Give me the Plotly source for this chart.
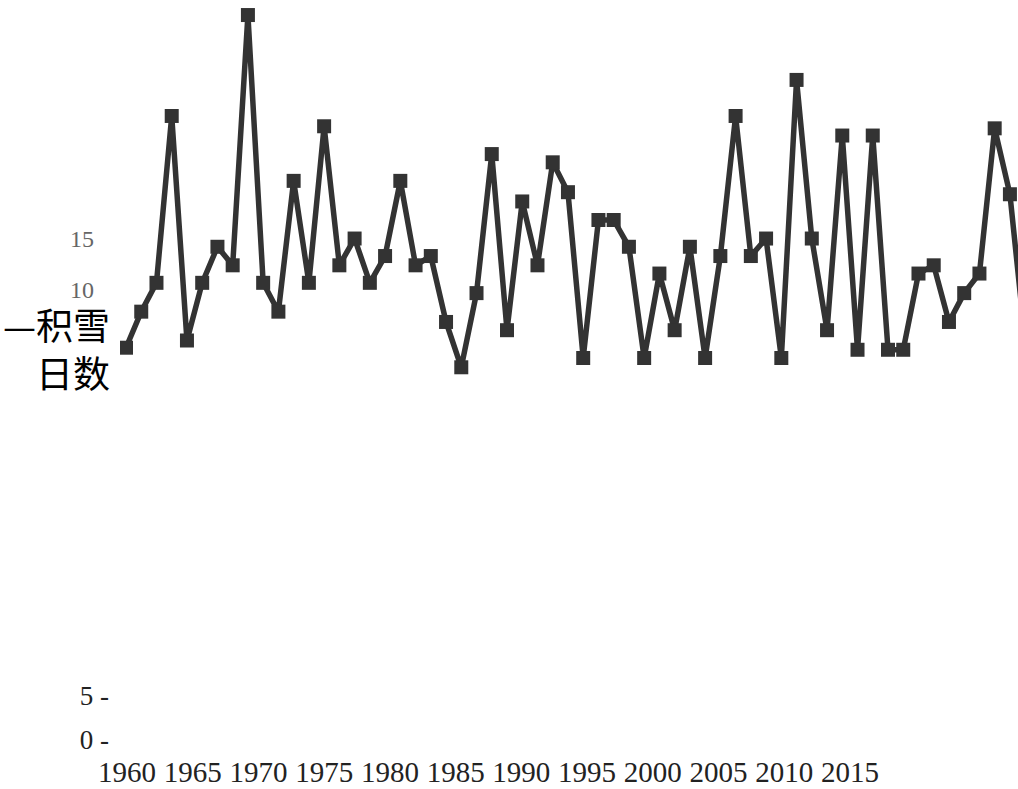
import plotly.graph_objects as go

# Annual snow-cover days
years = list(range(1960, 2020))
snow_days = [4.4, 7.9, 10.7, 26.9, 5.1, 10.7, 14.2, 12.4, 36.7, 10.7,
             7.9, 20.6, 10.7, 25.9, 12.4, 15.0, 10.7, 13.3, 20.6, 12.4,
             13.3, 6.9, 2.5, 9.7, 23.2, 6.1, 18.6, 12.4, 22.4, 19.5,
             3.4, 16.8, 16.8, 14.2, 3.4, 11.6, 6.1, 14.2, 3.4, 13.3,
             26.9, 13.3, 15.0, 3.4, 30.4, 15.0, 6.1, 25.0, 4.2, 25.0,
             4.2, 4.2, 11.6, 12.4, 6.9, 9.7, 11.6, 25.7, 19.3, 5.0]

# Tick labels
upper_y_ticks = [10, 15]
lower_y_ticks = [0, 5]
lower_y_text = ["0 -", "5 -"]
year_ticks = list(range(1960, 2016, 5))

W, H = 1018, 789
SERIF = "Liberation Serif"
CJK = "Noto Sans CJK SC"


def px_x(p):
    return p / W


def px_y(p):
    return 1 - p / H


fig = go.Figure()

fig.add_trace(go.Scatter(
    x=years, y=snow_days,
    mode="lines+markers",
    line=dict(color="#333333", width=5.5),
    marker=dict(symbol="square", size=14, color="#333333", line=dict(width=0)),
    showlegend=False, hoverinfo="x+y",
))

# Empty trace so the lower axis pair is drawn
fig.add_trace(go.Scatter(x=[], y=[], xaxis="x2", yaxis="y2", showlegend=False))

fig.update_layout(
    width=W, height=H,
    margin=dict(l=0, r=0, t=0, b=0, pad=0),
    paper_bgcolor="white",
    plot_bgcolor="white",
    xaxis=dict(
        domain=[px_x(120), 1.0],
        range=[1959.606, 2018.53],
        automargin=False,
        showticklabels=False, showgrid=False, zeroline=False, showline=False,
        ticks="",
    ),
    yaxis=dict(
        domain=[px_y(375), 1.0],
        range=[1.75, 38.16],
        automargin=False,
        tickvals=upper_y_ticks,
        ticktext=[str(v) for v in upper_y_ticks],
        tickfont=dict(family=SERIF, size=24, color="#666666"),
        ticks="", ticklabelstandoff=25,
        showgrid=False, zeroline=False, showline=False,
    ),
    xaxis2=dict(
        domain=[px_x(112), px_x(900)],
        range=[1958.859, 2018.805],
        anchor="y2",
        automargin=False,
        tickvals=year_ticks,
        ticktext=[str(v) for v in year_ticks],
        tickfont=dict(family=SERIF, size=29, color="#222222"),
        ticks="", ticklabelstandoff=2,
        showgrid=False, zeroline=False, showline=False,
    ),
    yaxis2=dict(
        domain=[px_y(750), px_y(686)],
        range=[-1.136, 6.136],
        anchor="free",
        position=px_x(109),
        automargin=False,
        tickvals=lower_y_ticks,
        ticktext=lower_y_text,
        tickfont=dict(family=SERIF, size=27, color="#222222"),
        ticks="", ticklabelstandoff=0,
        showgrid=False, zeroline=False, showline=False,
    ),
    annotations=[dict(
        text="—积雪<br>日数",
        xref="paper", yref="paper",
        x=px_x(112), y=px_y(348),
        xanchor="right", yanchor="middle",
        align="right", showarrow=False,
        font=dict(family=CJK, size=37, color="#000000"),
    )],
)

fig.write_html("out.html")
